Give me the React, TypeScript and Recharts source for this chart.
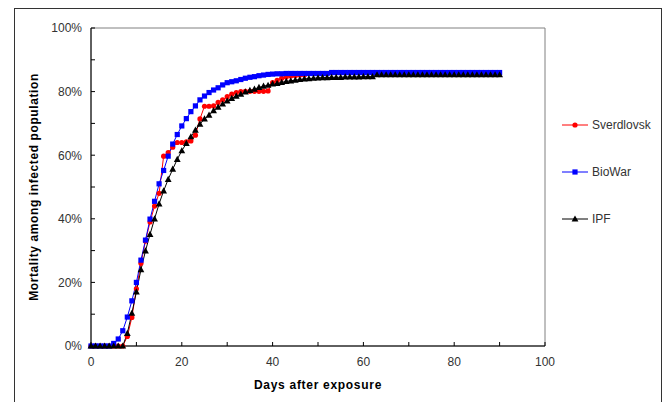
import { LineChart, Line, XAxis, YAxis, ReferenceArea, Label } from 'recharts';

const days = [
  0, 1, 2, 3, 4, 5, 6, 7, 8, 9, 10, 11, 12, 13, 14, 15, 16, 17, 18, 19, 20,
  21, 22, 23, 24, 25, 26, 27, 28, 29, 30, 31, 32, 33, 34, 35, 36, 37, 38, 39, 40,
  41, 42, 43, 44, 45, 46, 47, 48, 49, 50, 51, 52, 53, 54, 55, 56, 57, 58, 59, 60,
  61, 62, 63, 64, 65, 66, 67, 68, 69, 70, 71, 72, 73, 74, 75, 76, 77, 78, 79, 80,
  81, 82, 83, 84, 85, 86, 87, 88, 89, 90,
];

// Sverdlovsk stops around day 47
const sverdlovsk = [
  0, 0, 0, 0, 0, 0, 0, 0, 3, 9, 18, 26, 33, 39, 44, 48, 59.7, 60.8, 62.5, 64, 64,
  64.2, 64.5, 66.3, 71.4, 75.4, 75.4, 75.5, 76.6, 77.4, 78.4, 79.2, 79.7, 80, 80.1, 80.1, 80.1, 80.1, 80.1, 80.2, 82.8,
  83.5, 84.2, 84.6, 84.9, 85, 85.2, 85.2,
];

const bioWar = [
  0, 0, 0, 0, 0, 0.8, 2.2, 4.8, 9.1, 14.2, 20, 27, 33.3, 39.9, 45.5, 51, 55.2, 59.7, 63.5, 66.5, 69.2,
  71.5, 73.7, 75.5, 77.4, 78.6, 79.7, 80.5, 81.2, 82.1, 82.8, 83.1, 83.4, 83.8, 84.2, 84.5, 84.7, 85, 85.2, 85.4, 85.5,
  85.6, 85.6, 85.7, 85.7, 85.7, 85.7, 85.7, 85.7, 85.7, 85.7, 85.7, 85.7, 86, 86, 86, 86, 86, 86, 86, 86,
  86, 86, 86, 86, 86, 86, 86, 86, 86, 86, 86, 86, 86, 86, 86, 86, 86, 86, 86, 86,
  86, 86, 86, 86, 86, 86, 86, 86, 86, 86,
];

const ipf = [
  0, 0, 0, 0, 0, 0, 0, 0, 4, 10.3, 17, 24, 29.9, 35.1, 40, 44.7, 48.8, 52.4, 55.6, 58.7, 61.4,
  63.7, 65.8, 67.9, 69.8, 71.4, 72.6, 74, 75.1, 76.1, 77.1, 77.9, 78.6, 79.2, 79.9, 80.4, 80.8, 81.3, 81.7, 82, 82.4,
  82.6, 82.9, 83.2, 83.4, 83.6, 83.8, 84, 84.1, 84.2, 84.3, 84.4, 84.4, 84.5, 84.5, 84.5, 84.6, 84.6, 84.6, 84.6, 84.7,
  84.7, 84.7, 85.3, 85.3, 85.3, 85.3, 85.3, 85.3, 85.3, 85.3, 85.3, 85.3, 85.3, 85.3, 85.3, 85.3, 85.3, 85.3, 85.3, 85.3,
  85.3, 85.3, 85.3, 85.3, 85.3, 85.3, 85.3, 85.3, 85.3, 85.3,
];

const xTicks = [0, 10, 20, 30, 40, 50, 60, 70, 80, 90, 100];
const yTicks = [0, 10, 20, 30, 40, 50, 60, 70, 80, 90, 100];

const seriesInfo = [
  { key: 'sverdlovsk', name: 'Sverdlovsk', color: '#FF0000', shape: 'circle' },
  { key: 'bioWar', name: 'BioWar', color: '#0000FF', shape: 'square' },
  { key: 'ipf', name: 'IPF', color: '#000000', shape: 'triangle' },
];

const FONT = '"Liberation Sans", Arial, sans-serif';
const Y_MARGIN = 9;
const X_MARGIN = 11;
const TICK_LEN = 4;

const Marker = ({ cx, cy, shape, color }: any) => {
  if (cx == null || cy == null) return null;
  if (shape === 'circle') return <circle cx={cx} cy={cy} r={2.6} fill={color} />;
  if (shape === 'square') return <rect x={cx - 2.6} y={cy - 2.6} width={5.2} height={5.2} fill={color} />;
  return <path d={`M${cx},${cy - 3.6} L${cx + 3.4},${cy + 2.6} L${cx - 3.4},${cy + 2.6} Z`} fill={color} />;
};

// ticks point into the plot, labels only every 20
const YTick = ({ x, y, payload }: any) => (
  <g>
    <line x1={x + Y_MARGIN} x2={x + Y_MARGIN + TICK_LEN} y1={y} y2={y} stroke="#000" />
    {payload.value % 20 === 0 && (
      <text x={x} y={y} dy="0.36em" textAnchor="end" fontSize={12} fill="#333" fontFamily={FONT}>
        {payload.value}%
      </text>
    )}
  </g>
);

const XTick = ({ x, y, payload }: any) => (
  <g>
    <line x1={x} x2={x} y1={y - X_MARGIN} y2={y - X_MARGIN - TICK_LEN} stroke="#000" />
    {payload.value % 20 === 0 && (
      <text x={x} y={y} dy="0.71em" textAnchor="middle" fontSize={12} fill="#333" fontFamily={FONT}>
        {payload.value}
      </text>
    )}
  </g>
);

export default function App() {
  const data = days.map((d, i) => ({
    day: d,
    sverdlovsk: i < sverdlovsk.length ? sverdlovsk[i] : null,
    bioWar: bioWar[i],
    ipf: ipf[i],
  }));

  return (
    <div style={{ position: 'absolute', left: 0, top: 0, width: 668, height: 402, background: '#fff', overflow: 'hidden' }}>
      <div
        style={{
          position: 'absolute',
          left: 14,
          top: 8,
          width: 646,
          height: 410,
          border: '1px solid #333',
        }}
      />
      <LineChart
        width={668}
        height={402}
        data={data}
        margin={{ top: 28, right: 123, bottom: 16, left: 0 }}
        style={{ position: 'absolute', left: 0, top: 0 }}
      >
        <ReferenceArea x1={0} x2={100} y1={0} y2={100} fill="none" stroke="#808080" strokeWidth={1} />
        <XAxis
          type="number"
          dataKey="day"
          domain={[0, 100]}
          ticks={xTicks}
          height={40}
          tickSize={0}
          tickMargin={X_MARGIN}
          tick={<XTick />}
          axisLine={{ stroke: '#000' }}
          tickLine={false}
          interval={0}
        >
          <Label
            value="Days after exposure"
            position="insideBottom"
            offset={-3}
            style={{ fontSize: 12, fontWeight: 'bold', fill: '#000', fontFamily: FONT, letterSpacing: 0.7 }}
          />
        </XAxis>
        <YAxis
          type="number"
          domain={[0, 100]}
          ticks={yTicks}
          width={91}
          tickSize={0}
          tickMargin={Y_MARGIN}
          tick={<YTick />}
          axisLine={{ stroke: '#000' }}
          tickLine={false}
          interval={0}
        >
          <Label
            value="Mortality among infected population"
            angle={-90}
            position="insideLeft"
            offset={34}
            style={{ textAnchor: 'middle', fontSize: 12, fontWeight: 'bold', fill: '#000', fontFamily: FONT, letterSpacing: 0.6 }}
          />
        </YAxis>
        {seriesInfo.map((s) => (
          <Line
            key={s.key}
            dataKey={s.key}
            name={s.name}
            type="linear"
            stroke={s.color}
            strokeWidth={1}
            isAnimationActive={false}
            connectNulls={false}
            dot={(p: any) => <Marker key={`${s.key}-${p.index}`} cx={p.cx} cy={p.cy} shape={s.shape} color={s.color} />}
            activeDot={false}
          />
        ))}
      </LineChart>
      <div style={{ position: 'absolute', left: 560, top: 0 }}>
        {seriesInfo.map((s, i) => (
          <div
            key={s.key}
            style={{ position: 'absolute', left: 0, top: 116 + i * 47, height: 18, width: 100, display: 'flex', alignItems: 'center' }}
          >
            <svg width={28} height={18}>
              <line x1={2} y1={9} x2={28} y2={9} stroke={s.color} strokeWidth={1} />
              <Marker cx={15} cy={9} shape={s.shape} color={s.color} />
            </svg>
            <span style={{ marginLeft: 4, fontSize: 12, color: '#333', fontFamily: FONT }}>{s.name}</span>
          </div>
        ))}
      </div>
    </div>
  );
}
